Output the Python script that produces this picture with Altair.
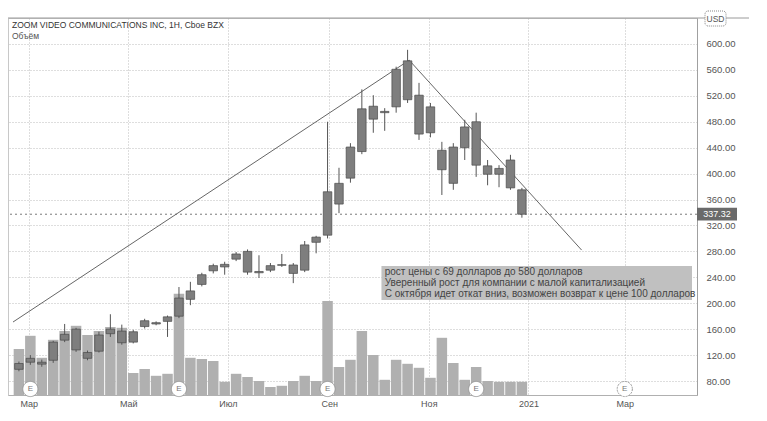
import altair as alt
import pandas as pd

# ---- weekly candles (ZM, 2020) ----
weeks = ["2020-02-24", "2020-03-02", "2020-03-09", "2020-03-16", "2020-03-23", "2020-03-30",
         "2020-04-06", "2020-04-13", "2020-04-20", "2020-04-27", "2020-05-04", "2020-05-11",
         "2020-05-18", "2020-05-25", "2020-06-01", "2020-06-08", "2020-06-15", "2020-06-22",
         "2020-06-29", "2020-07-06", "2020-07-13", "2020-07-20", "2020-07-27", "2020-08-03",
         "2020-08-10", "2020-08-17", "2020-08-24", "2020-08-31", "2020-09-07", "2020-09-14",
         "2020-09-21", "2020-09-28", "2020-10-05", "2020-10-12", "2020-10-19", "2020-10-26",
         "2020-11-02", "2020-11-09", "2020-11-16", "2020-11-23", "2020-11-30", "2020-12-07",
         "2020-12-14", "2020-12-21", "2020-12-28"]
open_ = [98, 109, 109, 112, 143, 160, 124, 126, 153, 157, 140, 164, 170, 172, 180, 206, 229, 250,
         260, 268, 280, 249, 251, 259.5, 259, 251, 294, 305, 385, 393, 434, 504, 496, 503, 574, 521,
         463, 436, 385, 440, 480, 412, 399, 421, 375]
high = [110, 120, 113, 142, 168, 162, 127, 156, 183, 167, 159, 176, 172, 181, 225, 233, 247, 261,
        264, 279, 283, 274, 262, 276, 262, 296, 304, 480, 409, 447, 530, 521, 501, 565, 591, 540,
        509, 449, 447, 483, 494, 421, 413, 429, 378]
low = [95, 105, 102, 108, 140, 125, 112, 124, 148, 136, 138, 161, 166, 148, 177, 197, 226, 246,
       244, 265, 244, 239, 248, 256, 231, 248, 277, 300, 339, 386, 430, 463, 466, 494, 509, 452,
       456, 367, 375, 421, 395, 382, 379, 375, 332]
close = [107, 115, 106, 140, 152, 128, 115, 151, 160, 139, 156, 173, 168, 179, 208, 219, 244, 258,
         256, 276, 248, 247, 258, 258.5, 246, 290, 302, 372, 353, 441, 500, 484, 494, 561, 514, 461,
         503, 406, 441, 472, 413, 399, 408, 378, 337.32]
volume_m = [115, 148, 93, 138, 160, 173, 150, 160, 170, 168, 55, 65, 48, 53, 253, 93, 90, 85,
            33, 53, 45, 35, 20, 23, 35, 48, 35, 235, 70, 88, 160, 100, 38, 88, 78, 68, 43, 143,
            80, 38, 70, 35, 33, 33, 33]

last_price = 337.32
earnings = ["2020-03-02", "2020-06-01", "2020-08-31", "2020-11-30", "2021-03-01"]
earn_future = [False, False, False, False, True]

trend_line = ["a", "a", "b", "b"]
trend_date = ["2020-02-20T09:00:00Z", "2020-10-20", "2020-10-20", "2021-02-02T14:00:00Z"]
trend_price = [171, 575, 575, 282]

note_lines = ["рост цены с 69 долларов до 580 долларов",
              "Уверенный рост для компании с малой капитализацией",
              "С октября идет откат вниз, возможен возврат к цене 100 долларов"]
note_price = [248, 231, 214]
note_box = {"x1": "2020-10-03", "x2": "2021-04-11T04:00:00Z", "p1": 257.4, "p2": 205}

price_ticks = list(range(80, 601, 40))
month_ticks = [(2020, 3), (2020, 5), (2020, 7), (2020, 9), (2020, 11), (2021, 1), (2021, 3)]

title_text = "ZOOM VIDEO COMMUNICATIONS INC, 1Н, Cboe BZX"
vol_text = "Объём"

# ---- frames ----
candles = pd.DataFrame({"date": weeks, "open": open_, "high": high, "low": low,
                        "close": close, "vol": volume_m})
trend = pd.DataFrame({"line": trend_line, "date": trend_date, "price": trend_price})
earn = pd.DataFrame({"date": earnings, "future": earn_future})
notes = pd.DataFrame({"date": ["2020-10-05"] * 3, "price": note_price, "text": note_lines})
box = pd.DataFrame([note_box])

FONT = "Liberation Sans"
W, H = 689, 377

xscale = alt.Scale(type="utc",
                   domain=[alt.DateTime(year=2020, month=2, date=20, hours=9, utc=True),
                           alt.DateTime(year=2021, month=4, date=11, hours=4, utc=True)])
xaxis = alt.Axis(values=[alt.DateTime(year=y, month=m, date=1, utc=True) for y, m in month_ticks],
                 labelExpr="utcmonth(datum.value) == 0 ? utcFormat(datum.value, '%Y') : "
                           "['Янв','Фев','Мар','Апр','Май','Июн','Июл','Авг','Сен','Окт','Ноя','Дек'][utcmonth(datum.value)]",
                 title=None, grid=True, gridDash=[1, 2], gridColor="#bdbdbd", ticks=False,
                 domainColor="#b0b0b0", labelFontSize=9, labelColor="#555", labelPadding=4,
                 labelFont=FONT)
yscale = alt.Scale(domain=[58.4, 640.1], nice=False, zero=False)
yaxis = alt.Axis(orient="right", values=price_ticks, format=".2f", title=None, grid=True,
                 gridDash=[1, 2], gridColor="#bdbdbd", ticks=False, domainColor="#a0a0a0",
                 labelFontSize=9.5, labelColor="#555", labelPadding=9, labelFont=FONT)


def X(field):
    return alt.X(field, type="temporal", scale=xscale, axis=xaxis)


def Y(field):
    return alt.Y(field, type="quantitative", scale=yscale, axis=yaxis)


vol = alt.Chart(candles).mark_bar(size=10.5, color="#b0b0b0").encode(
    x=X("date"),
    y=alt.Y("vol:Q", scale=alt.Scale(domain=[0, 942.5], nice=False), axis=None))

box_l = alt.Chart(box).mark_rect(color="#c0c0c0").encode(
    x=X("x1"), x2="x2:T", y=Y("p1"), y2="p2:Q")

price_line = alt.Chart().mark_rule(color="#7a7a7a", strokeDash=[2, 3], strokeWidth=1).encode(
    y=alt.Y(datum=last_price, type="quantitative", scale=yscale, axis=yaxis))

trend_l = alt.Chart(trend).mark_line(color="#666", strokeWidth=1).encode(
    x=X("date"), y=Y("price"), detail="line:N")

wicks = alt.Chart(candles).mark_rule(color="#555", strokeWidth=1).encode(
    x=X("date"), y=Y("low"), y2="high:Q")

bodies = alt.Chart(candles).mark_bar(size=8.5, color="#7e7e7e", stroke="#4a4a4a",
                                     strokeWidth=0.7).encode(
    x=X("date"), y=Y("open"), y2="close:Q")

notes_l = alt.Chart(notes).mark_text(align="left", baseline="middle", font=FONT, fontSize=10,
                                     color="#444").encode(
    x=X("date"), y=Y("price"), text="text:N")

earn_c = alt.Chart(earn).mark_point(shape="circle", filled=True, fill="white", stroke="#9a9a9a",
                                    strokeWidth=1, size=230, opacity=1).encode(
    x=X("date"), y=alt.value(371),
    strokeDash=alt.condition("datum.future", alt.value([2, 1]), alt.value([1, 0])))
earn_t = alt.Chart(earn).mark_text(text="E", font=FONT, fontSize=8, color="#777").encode(
    x=X("date"), y=alt.value(371))

tag_rect = alt.Chart().mark_rect(color="#6a6a6a").encode(
    x=alt.value(689), x2=alt.value(729),
    y=alt.Y(datum=347.5, type="quantitative", scale=yscale, axis=yaxis),
    y2=alt.Y2(datum=327.5))
tag_text = alt.Chart().mark_text(text=f"{last_price:.2f}", font=FONT, fontSize=9,
                                 color="white", align="center", baseline="middle").encode(
    x=alt.value(709), y=alt.Y(datum=last_price, type="quantitative", scale=yscale, axis=yaxis))

title_l = alt.Chart().mark_text(text=title_text, align="left", baseline="middle", font=FONT,
                                fontSize=8.5, color="#333").encode(x=alt.value(4), y=alt.value(7))
vol_l = alt.Chart().mark_text(text=vol_text, align="left", baseline="middle", font=FONT,
                              fontSize=8.5, color="#555").encode(x=alt.value(4), y=alt.value(18))

top_rule = alt.Chart().mark_rule(color="#9a9a9a").encode(
    x=alt.value(0), x2=alt.value(741), y=alt.value(0))
usd_box = alt.Chart().mark_rect(fill="white", stroke="#888", strokeDash=[1, 1],
                                cornerRadius=3).encode(
    x=alt.value(697), x2=alt.value(718), y=alt.value(-7), y2=alt.value(8))
usd_t = alt.Chart().mark_text(text="USD", font=FONT, fontSize=8.5, color="#555",
                              baseline="middle").encode(x=alt.value(707.5), y=alt.value(0.5))

price_layer = alt.layer(box_l, price_line, trend_l, wicks, bodies, notes_l, earn_c, earn_t,
                        tag_rect, tag_text, title_l, vol_l, top_rule, usd_box, usd_t)

chart = alt.layer(vol, price_layer).resolve_scale(y="independent").properties(
    width=W, height=H,
    autosize=alt.AutoSizeParams(type="none"),
    padding={"left": 0, "top": 10, "right": 52, "bottom": 15},
    background="white",
).configure_view(stroke="#c8c8c8")

chart.save("out.html", embed_options={"renderer": "svg", "actions": False})
